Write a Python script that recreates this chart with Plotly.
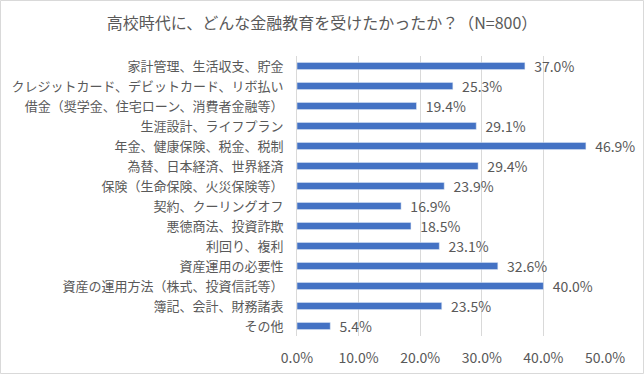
import plotly.graph_objects as go

categories = [
    "家計管理、生活収支、貯金",
    "クレジットカード、デビットカード、リボ払い",
    "借金（奨学金、住宅ローン、消費者金融等）",
    "生涯設計、ライフプラン",
    "年金、健康保険、税金、税制",
    "為替、日本経済、世界経済",
    "保険（生命保険、火災保険等）",
    "契約、クーリングオフ",
    "悪徳商法、投資詐欺",
    "利回り、複利",
    "資産運用の必要性",
    "資産の運用方法（株式、投資信託等）",
    "簿記、会計、財務諸表",
    "その他",
]
values = [37.0, 25.3, 19.4, 29.1, 46.9, 29.4, 23.9, 16.9, 18.5, 23.1, 32.6, 40.0, 23.5, 5.4]
title_text = "高校時代に、どんな金融教育を受けたかったか？（N=800）"

FONT = "Noto Sans CJK JP, Meiryo, sans-serif"
GRAY = "#595959"

fig = go.Figure(
    go.Bar(
        x=values,
        y=categories,
        orientation="h",
        marker=dict(color="#4472C4"),
        width=0.36,
        texttemplate="\u00a0\u00a0%{x:.1f}%",
        textposition="outside",
        constraintext="none",
        textfont=dict(family=FONT, size=14, color=GRAY),
        cliponaxis=False,
        hoverinfo="skip",
    )
)

W, H = 644, 374
L, R, T, B = 297, 39, 56, 38
pw = W - L - R
ph = H - T - B

fig.update_layout(
    width=W,
    height=H,
    margin=dict(l=L, r=R, t=T, b=B, autoexpand=False),
    paper_bgcolor="white",
    plot_bgcolor="white",
    showlegend=False,
    title=dict(
        text=title_text,
        x=0.5,
        xref="container",
        y=1 - 23 / H,
        yref="container",
        yanchor="middle",
        xanchor="center",
        font=dict(family=FONT, size=16, color=GRAY),
    ),
    font=dict(family=FONT, color=GRAY),
    xaxis=dict(
        range=[0, 50],
        dtick=10,
        tickformat=".1f",
        ticksuffix="%",
        showgrid=True,
        gridcolor="#D9D9D9",
        gridwidth=1,
        zeroline=False,
        showline=False,
        ticks="",
        tickfont=dict(family=FONT, size=14, color=GRAY),
        ticklabelstandoff=12,
        automargin=False,
        fixedrange=True,
    ),
    yaxis=dict(
        autorange="reversed",
        showline=True,
        linecolor="#D9D9D9",
        linewidth=1,
        ticks="",
        tickfont=dict(family=FONT, size=13, color=GRAY),
        ticklabelstandoff=10,
        automargin=False,
        fixedrange=True,
    ),
    shapes=[
        dict(
            type="rect",
            xref="paper",
            yref="paper",
            x0=-(L - 0.5) / pw,
            x1=1 + (R - 0.5) / pw,
            y0=-(B - 0.5) / ph,
            y1=1 + (T - 0.5) / ph,
            line=dict(color="#D9D9D9", width=1),
            fillcolor="rgba(0,0,0,0)",
            layer="below",
        )
    ],
)

fig.write_html(
    "out.html",
    config={"displayModeBar": False},
    post_script="document.body.style.margin='0px';document.body.style.overflow='hidden';",
)
